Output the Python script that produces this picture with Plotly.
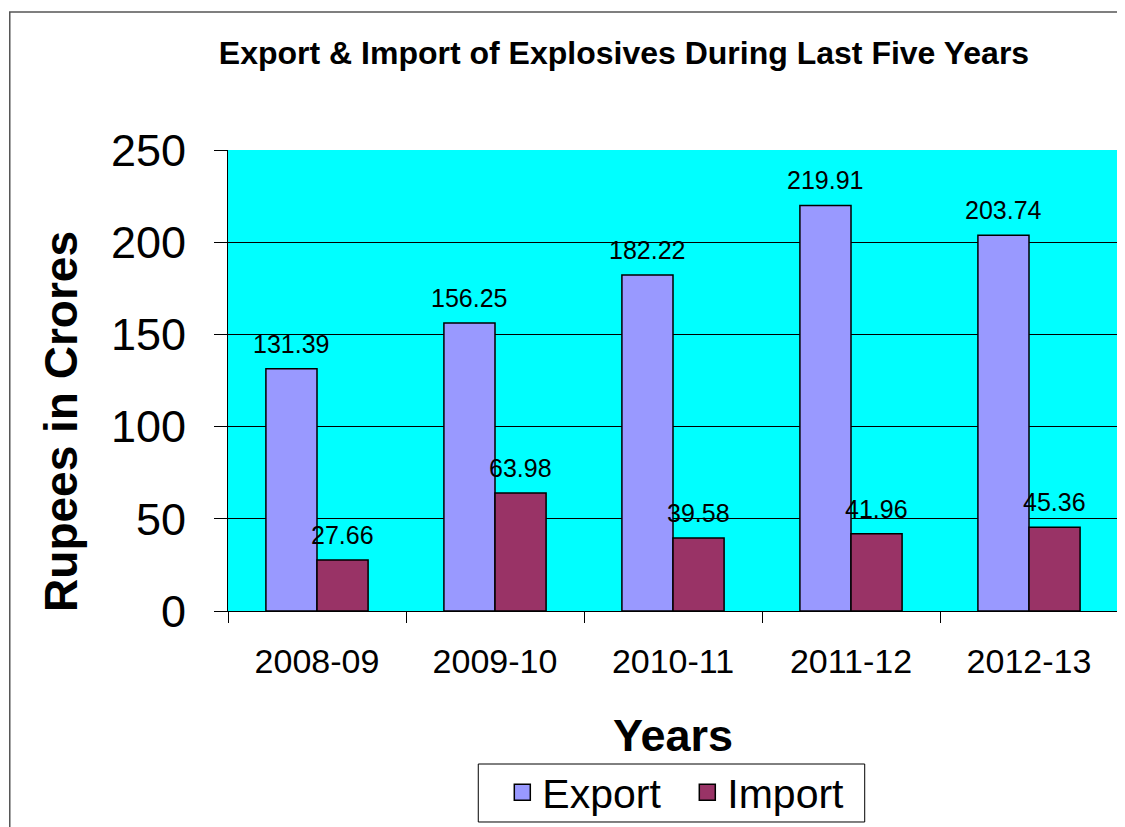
import plotly.graph_objects as go

years = ["2008-09", "2009-10", "2010-11", "2011-12", "2012-13"]
export_vals = [131.39, 156.25, 182.22, 219.91, 203.74]
import_vals = [27.66, 63.98, 39.58, 41.96, 45.36]
y_ticks = [0, 50, 100, 150, 200, 250]
series = [("Export", export_vals, "#9999FF", -25.6), ("Import", import_vals, "#993366", 25.6)]

FONT = "Arial, Liberation Sans, sans-serif"

fig = go.Figure()
for name, vals, color, _ in series:
    fig.add_trace(go.Bar(name=name, x=years, y=vals, showlegend=False,
                         marker=dict(color=color, line=dict(color="black", width=1.5))))
# legend entries with larger square swatches
for name, vals, color, _ in series:
    fig.add_trace(go.Scatter(name=name, x=[None], y=[None], mode="markers",
                             marker=dict(symbol="square", size=16, color=color,
                                         line=dict(color="black", width=1.5))))

# data labels above bars
for name, vals, color, shift in series:
    for cat, v in zip(years, vals):
        fig.add_annotation(x=cat, y=v, xref="x", yref="y", text=f"{v:.2f}",
                           showarrow=False, yanchor="bottom", xshift=shift, yshift=9,
                           font=dict(family=FONT, size=25, color="black"))

# y-axis title (placed below the axis centre as in the original)
fig.add_annotation(x=-0.1878, y=0.412, xref="paper", yref="paper",
                   text="<b>Rupees in Crores</b>", textangle=-90, showarrow=False,
                   xanchor="center", yanchor="middle",
                   font=dict(family=FONT, size=46, color="black"))

# outer chart border
fig.add_shape(type="rect", xref="paper", yref="paper",
              x0=-0.2452, x1=1.03, y0=-0.5, y1=1.2994,
              line=dict(color="#555555", width=1.5), layer="below")
# legend box
fig.add_shape(type="rect", xref="paper", yref="paper",
              x0=0.2812, x1=0.7154, y0=-0.4577, y1=-0.3319,
              line=dict(color="black", width=1), fillcolor="white", layer="below")

W, H = 1117, 819
fig.update_layout(
    width=W, height=H,
    margin=dict(l=220, r=7, t=142, b=216, autoexpand=False),
    paper_bgcolor="white", plot_bgcolor="#00FFFF",
    barmode="group", bargap=0.426, bargroupgap=0,
    title=dict(text="<b>Export & Import of Explosives During Last Five Years</b>",
               x=616 / W, xanchor="center", y=1 - 45 / H, yanchor="middle",
               font=dict(family=FONT, size=32, color="black")),
    font=dict(family=FONT, color="black"),
    showlegend=True,
    legend=dict(orientation="h", x=0.3082, xanchor="left", y=-0.321, yanchor="top",
                bgcolor="rgba(0,0,0,0)", borderwidth=0, entrywidth=140,
                font=dict(family=FONT, size=41, color="black"),
                itemsizing="trace", traceorder="normal"),
    xaxis=dict(type="category", automargin=False,
               title=dict(text="<b>Years</b>", font=dict(family=FONT, size=45), standoff=40),
               tickfont=dict(family=FONT, size=34), tickson="boundaries", tickangle=0,
               ticks="outside", ticklen=11, tickcolor="black", tickwidth=1,
               showline=True, linecolor="black", linewidth=1, showgrid=False,
               ticklabelstandoff=20),
    yaxis=dict(automargin=False, title=dict(text=""),
               range=[0, 250], tickvals=y_ticks, tickfont=dict(family=FONT, size=45),
               ticks="outside", ticklen=13, tickcolor="black", tickwidth=1,
               showline=True, linecolor="black", linewidth=1,
               showgrid=True, gridcolor="black", gridwidth=1, zeroline=False,
               ticklabelstandoff=19),
)

fig.write_html("out.html")
